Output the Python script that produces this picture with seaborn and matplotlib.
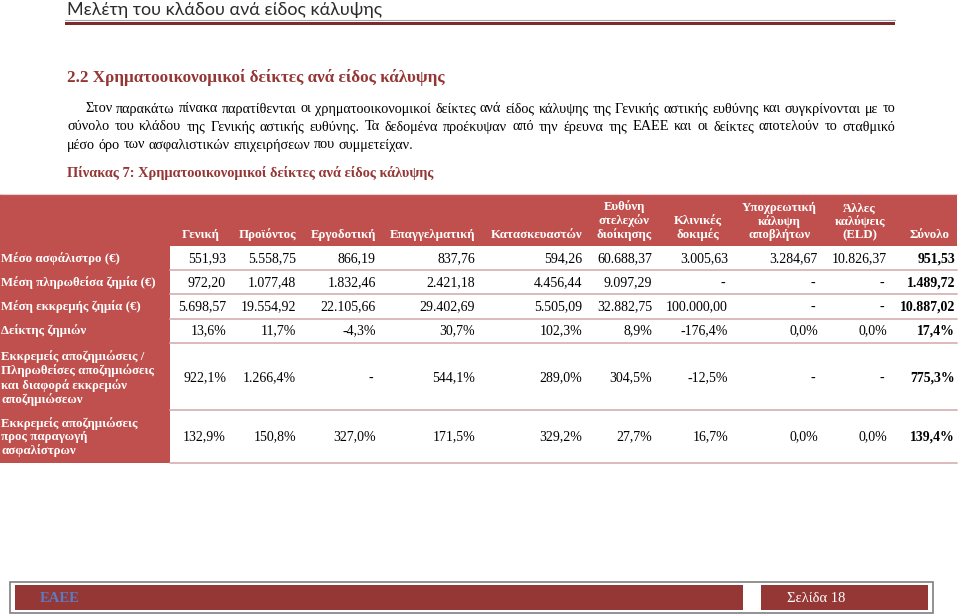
import matplotlib
matplotlib.use('Agg')
import matplotlib.pyplot as plt
from matplotlib.patches import Rectangle
import seaborn as sns

# style first, fonts after (set_theme resets font.family)
sns.set_theme(style='white')
plt.rcParams['font.family'] = ['Liberation Serif', 'DejaVu Serif']

# ---- data ----
page_title = 'Μελέτη του κλάδου ανά είδος κάλυψης'
section_title = '2.2 Χρηματοοικονομικοί δείκτες ανά είδος κάλυψης'
paragraph = [
    'Στον παρακάτω πίνακα παρατίθενται οι χρηματοοικονομικοί δείκτες ανά είδος κάλυψης '
    'της Γενικής αστικής ευθύνης και συγκρίνονται με το',
    'σύνολο του κλάδου της Γενικής αστικής ευθύνης. Τα δεδομένα προέκυψαν από την έρευνα '
    'της ΕΑΕΕ και οι δείκτες αποτελούν το σταθμικό',
    'μέσο όρο των ασφαλιστικών επιχειρήσεων που συμμετείχαν.',
]
table_caption = 'Πίνακας 7: Χρηματοοικονομικοί δείκτες ανά είδος κάλυψης'

columns = ['Γενική', 'Προϊόντος', 'Εργοδοτική', 'Επαγγελματική', 'Κατασκευαστών',
           'Ευθύνη\nστελεχών\nδιοίκησης', 'Κλινικές\nδοκιμές',
           'Υποχρεωτική\nκάλυψη\nαποβλήτων', 'Άλλες\nκαλύψεις\n(ELD)', 'Σύνολο']
row_labels = ['Μέσο ασφάλιστρο (€)',
              'Μέση πληρωθείσα ζημία (€)',
              'Μέση εκκρεμής ζημία (€)',
              'Δείκτης ζημιών',
              'Εκκρεμείς αποζημιώσεις /\nΠληρωθείσες αποζημιώσεις\nκαι διαφορά εκκρεμών\nαποζημιώσεων',
              'Εκκρεμείς αποζημιώσεις\nπρος παραγωγή\nασφαλίστρων']

avg_premium = [551.93, 5558.75, 866.19, 837.76, 594.26, 60688.37, 3005.63, 3284.67, 10826.37, 951.53]
avg_paid_claim = [972.20, 1077.48, 1832.46, 2421.18, 4456.44, 9097.29, None, None, None, 1489.72]
avg_outstanding = [5698.57, 19554.92, 22105.66, 29402.69, 5505.09, 32882.75, 100000.00, None, None, 10887.02]
loss_ratio = [13.6, 11.7, -4.3, 30.7, 102.3, 8.9, -176.4, 0.0, 0.0, 17.4]
outstanding_to_paid = [922.1, 1266.4, None, 544.1, 289.0, 304.5, -12.5, None, None, 775.3]
outstanding_to_premium = [132.9, 150.8, 327.0, 171.5, 329.2, 27.7, 16.7, 0.0, 0.0, 139.4]

footer_left = 'ΕΑΕΕ'
footer_right = 'Σελίδα 18'


def greek_num(v, dec, suffix=''):
    if v is None:
        return '-'
    s = f'{v:,.{dec}f}'
    return s.replace(',', '#').replace('.', ',').replace('#', '.') + suffix


table_rows = [
    [greek_num(v, 2) for v in avg_premium],
    [greek_num(v, 2) for v in avg_paid_claim],
    [greek_num(v, 2) for v in avg_outstanding],
    [greek_num(v, 1, '%') for v in loss_ratio],
    [greek_num(v, 1, '%') for v in outstanding_to_paid],
    [greek_num(v, 1, '%') for v in outstanding_to_premium],
]

# ---- layout (pixel coordinates) ----
RED_DARK = '#943634'
RED_HEAD = '#C0504D'
col_right = [226, 296, 376, 475, 582, 652, 728, 818, 887, 955]
head_right = [220, 296, 376, 475, 582, 652, 722, 817, 885, 950]
row_center = [259, 283, 307, 331, 378, 437]
row_lines = [270, 294, 319, 343, 410, 463]

fig = plt.figure(figsize=(9.6, 6.16), dpi=100)
ax = fig.add_axes([0, 0, 1, 1])
ax.set_xlim(0, 960)
ax.set_ylim(616, 0)
ax.axis('off')

# page header
ax.text(67, 10, page_title, fontsize=12.9, color='#2b2b2b', va='center',
        family=['Lato', 'Open Sans', 'DejaVu Sans'])
ax.plot([65, 895], [20, 20], color='#b0a0a0', lw=0.8)
ax.add_patch(Rectangle((65, 21.5), 830, 3.5, color='#7a2b2b', lw=0))

ax.text(67, 78, section_title, fontsize=12.3, fontweight='bold', color=RED_DARK, va='center')

# justified paragraph
renderer = fig.canvas.get_renderer()
para_y = [109, 127, 145]
para_x0 = [85, 67, 67]
for i, line in enumerate(paragraph):
    words = line.split(' ')
    arts = [ax.text(0, para_y[i], w, fontsize=10.3, color='black', va='center') for w in words]
    widths = [a.get_window_extent(renderer).width for a in arts]
    if i < len(paragraph) - 1:
        gap = (895 - para_x0[i] - sum(widths)) / (len(words) - 1)
    else:
        gap = 3.6
    x = para_x0[i]
    for a, w in zip(arts, widths):
        a.set_x(x)
        x += w + gap

ax.text(67, 173, table_caption, fontsize=10.4, fontweight='bold', color=RED_DARK, va='center')

# table backgrounds
ax.add_patch(Rectangle((0, 194), 957, 52, color=RED_HEAD, lw=0))
ax.add_patch(Rectangle((0, 194), 170, 269, color=RED_HEAD, lw=0))
ax.plot([0, 957], [194, 194], color='#e8d0d0', lw=0.8)
for y in row_lines:
    ax.plot([170, 957], [y, y], color='#d8b4b4', lw=1.3)

# header
for j, name in enumerate(columns):
    ax.text(head_right[j], 241, name, ha='right', va='bottom', multialignment='center',
            fontsize=9.3, fontweight='bold', color='white', linespacing=1.1)

# row labels and values
for i, label in enumerate(row_labels):
    ax.text(1, row_center[i], label, ha='left', va='center', fontsize=9.3,
            fontweight='bold', color='white', linespacing=1.15)
    for j, val in enumerate(table_rows[i]):
        xr = col_right[j] - (3 if val == '-' else 0)
        ax.text(xr, row_center[i], val, ha='right', va='center', fontsize=10, color='black',
                fontweight='bold' if j == len(columns) - 1 else 'normal')

# footer
ax.add_patch(Rectangle((10, 582), 923, 31, fill=False, edgecolor='#7f7f7f', lw=1.2))
ax.add_patch(Rectangle((15, 585), 728, 25, color='#953735', lw=0))
ax.add_patch(Rectangle((761, 585), 167, 25, color='#953735', lw=0))
ax.text(40, 598, footer_left, fontsize=10.5, fontweight='bold', color='#5b7cc4', va='center')
ax.text(787, 598, footer_right, fontsize=10.5, color='white', va='center')

fig.savefig('out.png', dpi=100, facecolor='white')
